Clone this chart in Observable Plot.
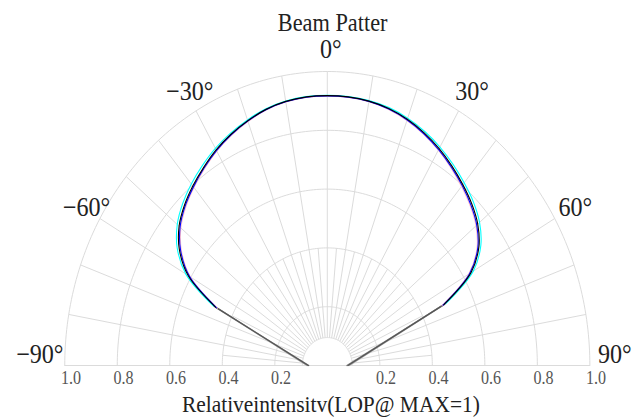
<!DOCTYPE html>
<html><head><meta charset="utf-8">
<script src="https://cdn.jsdelivr.net/npm/d3@7"></script>
<script src="https://cdn.jsdelivr.net/npm/@observablehq/plot@0.6"></script>
<style>
html,body{margin:0;padding:0;background:#fff;overflow:hidden}
g[aria-label="tick-labels"] text{letter-spacing:3px}
</style></head><body><div id="chart"></div>
<script>
// ---- data ----
const titleText = "Beam Patter";
const axisTitle = "Relativeintensitv(LOP@ MAX=1)";
const angles = [-90,-65,-60,-55,-50,-45,-40,-35,-30,-25,-20,-15,-10,-5,0,5,10,15,20,25,30,35,40,45,50,55,60,65,90];
const seriesNames = ["cyan","pink","blue","black"];
const seriesColors = ["#8ee6d8","#d9609a","#7474d8","#333333"];
const cyanValues  = [0.078,0.478,0.622,0.698,0.746,0.779,0.806,0.830,0.853,0.872,0.889,0.904,0.913,0.918,0.919,0.918,0.915,0.908,0.895,0.878,0.858,0.835,0.811,0.787,0.757,0.714,0.642,0.498,0.084];
const pinkValues  = [0.075,0.462,0.602,0.678,0.728,0.762,0.790,0.816,0.842,0.864,0.883,0.900,0.910,0.915,0.916,0.915,0.911,0.902,0.887,0.868,0.846,0.821,0.795,0.769,0.739,0.696,0.622,0.482,0.081];
const blueValues  = [0.070,0.466,0.606,0.682,0.732,0.766,0.793,0.819,0.844,0.866,0.885,0.901,0.911,0.916,0.917,0.916,0.912,0.903,0.889,0.870,0.848,0.824,0.799,0.773,0.743,0.700,0.626,0.486,0.074];
const blackValues = [0.072,0.470,0.612,0.688,0.737,0.770,0.797,0.822,0.847,0.868,0.886,0.902,0.912,0.917,0.918,0.917,0.913,0.905,0.891,0.873,0.852,0.828,0.803,0.778,0.748,0.705,0.632,0.490,0.078];
const ringValues = [0.2,0.4,0.6,0.8,1.0];
const innerRing = 0.095;
const minorSpokeReach = 0.4;
const tickValues = [1.0,0.8,0.6,0.4,0.2];
const tickLabels = ["1.0","0.8","0.6","0.4","0.2"];
const angleLabelValues = [-60,-30,0,30,60];
const angleLabelText = ["\u221260\u00b0","\u221230\u00b0","0\u00b0","30\u00b0","60\u00b0"];
const sideLabelValues = [-1,1];
const sideLabelText = ["\u221290\u00b0","90\u00b0"];

// ---- geometry helpers ----
const rad = a => a * Math.PI / 180;
const PX = (a, r) => r * Math.sin(rad(a));
const PY = (a, r) => r * Math.cos(rad(a));

const allValues = [cyanValues, pinkValues, blueValues, blackValues];
const smooth = [], tails = [];
seriesNames.forEach((s, k) => angles.forEach((a, i) => {
  const d = {series: s, a, r: allValues[k][i]};
  if (Math.abs(a) <= 65) smooth.push(d);
  if (a <= -65) tails.push({...d, part: s + "L"});
  if (a >= 65) tails.push({...d, part: s + "R"});
}));

const ringPts = [];
[innerRing, ...ringValues].forEach(r => d3.range(-90, 90.5, 1).forEach(a => ringPts.push({ring: r, a, r})));
const majorSpokes = d3.range(-80, 81, 10).map(a => ({a, r1: innerRing, r2: 1}));
const minorSpokes = d3.range(-85, 86, 10).map(a => ({a, r1: innerRing, r2: minorSpokeReach}));
const tickRows = [
  ...tickValues.map((v, i) => ({x: -v, label: tickLabels[i]})),
  ...tickValues.map((v, i) => ({x: v, label: tickLabels[i]}))
];

const W = 720, H = 420;
const grid = "#d9d9d9";
const font = "Liberation Serif";

const svg = Plot.plot({
  width: W, height: H,
  margin: 0,
  x: {domain: [-1, 1], range: [72, 660], axis: null},
  y: {domain: [0, 1], range: [365, 71], axis: null},
  color: {domain: seriesNames, range: seriesColors},
  style: {fontFamily: font, background: "#fff"},
  marks: [
    Plot.line(ringPts, {x: d => PX(d.a, d.r), y: d => PY(d.a, d.r), z: "ring", stroke: grid, strokeWidth: 1}),
    Plot.link(majorSpokes, {x1: d => PX(d.a, d.r1), y1: d => PY(d.a, d.r1), x2: d => PX(d.a, d.r2), y2: d => PY(d.a, d.r2), stroke: grid, strokeWidth: 1}),
    Plot.link(minorSpokes, {x1: d => PX(d.a, d.r1), y1: d => PY(d.a, d.r1), x2: d => PX(d.a, d.r2), y2: d => PY(d.a, d.r2), stroke: grid, strokeWidth: 1}),
    Plot.link([0], {x1: () => -1, y1: () => 0, x2: () => 1, y2: () => 0, stroke: grid, strokeWidth: 1}),
    Plot.line(tails, {x: d => PX(d.a, d.r), y: d => PY(d.a, d.r), z: "part", stroke: d => d.series === "cyan" ? "#b8b8b8" : d.series === "black" ? "#555" : "#8a8a8a", strokeWidth: 1.2}),
    Plot.line(smooth, {x: d => PX(d.a, d.r), y: d => PY(d.a, d.r), z: "series", stroke: "series", strokeWidth: 1.2, curve: "catmull-rom"}),
    Plot.text(angleLabelValues, {x: a => PX(a, 1.075), y: a => PY(a, 1.075), text: (a, i) => angleLabelText[i], fontSize: 27, fill: "#222", textAnchor: "middle", lineAnchor: "middle", dx: 4}),
    Plot.text(sideLabelValues, {x: v => v * 1.095, y: () => 0, text: (v, i) => sideLabelText[i], fontSize: 27, fill: "#222", textAnchor: "middle", lineAnchor: "bottom", dy: -3}),
    Plot.text(tickRows, {x: "x", y: () => 0, text: "label", fontSize: 18, fill: "#555", textAnchor: "middle", lineAnchor: "bottom", dx: 7, dy: 18, ariaLabel: "tick-labels"}),
    Plot.text([titleText], {frameAnchor: "top", text: d => d, fontSize: 25, fill: "#222", lineAnchor: "bottom", dy: 30, dx: 12}),
    Plot.text([axisTitle], {frameAnchor: "top", text: d => d, fontSize: 24, fill: "#222", lineAnchor: "bottom", dy: 411, dx: 10})
  ]
});
svg.setAttribute("width", 643);
svg.setAttribute("height", 420);
svg.setAttribute("preserveAspectRatio", "none");
svg.style.width = "643px";
svg.style.height = "420px";
svg.style.maxWidth = "none";
document.getElementById("chart").appendChild(svg);
</script></body></html>
